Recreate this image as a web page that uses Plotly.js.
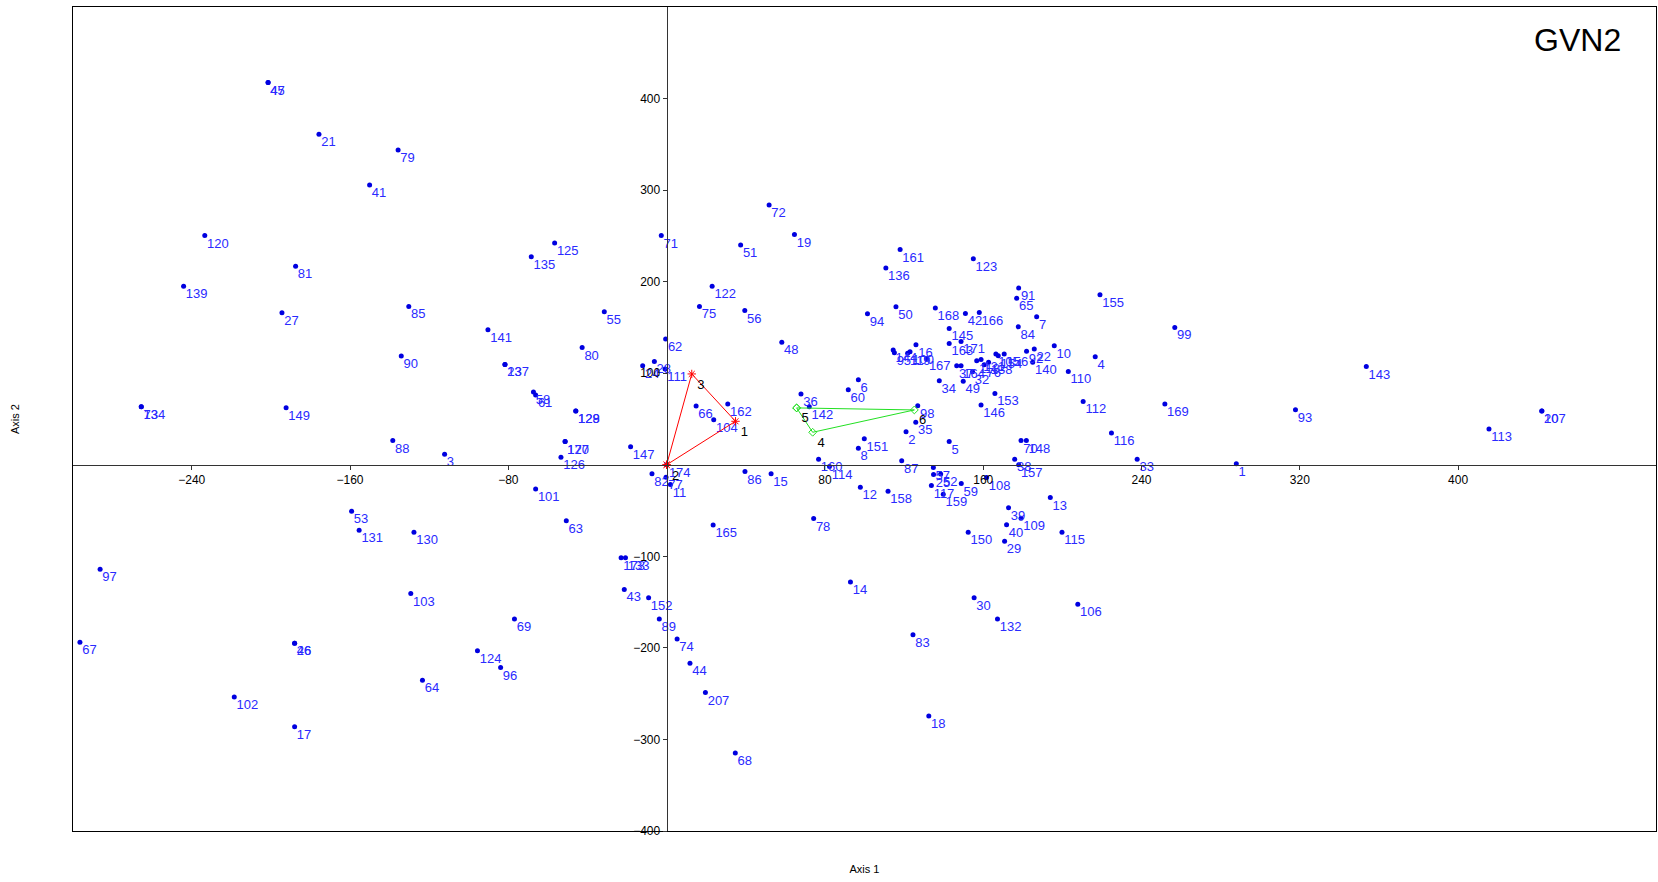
<!DOCTYPE html>
<html>
<head>
<meta charset="utf-8">
<script src="https://cdn.plot.ly/plotly-3.0.1.min.js"></script>
<style>
  html, body { margin: 0; padding: 0; background: #fff; }
  #chart { width: 1658px; height: 882px; }
</style>
</head>
<body>
<div id="chart"></div>
<script>
// Genotype scores on the first two axes
const genoLabels = [
  '1','2','3','4','5','6','7','8','10','11','12','13','14','15','16','17','18','19',
  '20','107','21','22','92','23','137','24','28','111','27','29','30','32','33','34',
  '35','36','37','164','39','40','41','42','43','44','45','47','48','49','50','51',
  '53','55','56','57','58','61','59','60','62','63','64','65','66','67','68','69',
  '70','148','71','72','73','134','74','75','77','78','79','80','81','82','83','84',
  '85','86','87','88','89','90','93','94','96','97','98','99','101','102','103','104',
  '106','108','109','110','112','113','114','115','116','117','120','122','123','124',
  '125','126','128','129','130','131','132','135','136','139','140','141','142','143',
  '145','146','147','149','150','151','152','153','155','157','158','159','160','161',
  '162','163','165','166','168','169','170','127','171','173','133','174','38','26','46',
  '91','207','25','52','118','121','138','76','105','119','156','144','95','154','100','167'
];
const axis1 = [
  287.9,121.0,-112.2,216.6,142.8,96.9,187.0,96.9,195.9,1.9,97.9,193.9,92.9,52.8,126.0,-188.0,132.5,64.6,
  442.3,442.3,-175.7,185.8,181.9,-81.7,-81.7,-12.1,-6.2,-0.8,-194.4,170.8,155.4,154.6,237.8,137.8,
  125.9,67.9,146.6,148.8,172.8,171.8,-150.1,151.0,-21.4,11.8,-201.4,-201.4,58.2,149.9,115.9,37.4,
  -159.2,-31.5,39.5,134.8,-67.3,-66.2,148.9,91.8,-0.5,-50.7,-123.4,176.9,14.9,-296.5,34.7,-76.9,
  179.1,181.8,-2.7,51.8,-265.5,-265.5,5.3,16.6,-0.3,74.3,-135.7,-42.7,-187.5,-7.4,124.5,177.7,
  -130.3,39.6,118.8,-138.4,-3.7,-134.1,317.8,101.5,-83.9,-286.3,126.9,256.8,-66.2,-218.5,-129.3,23.8,
  207.8,161.7,179.1,203.0,210.5,415.6,82.3,199.8,224.8,133.8,-233.4,23.0,155.0,-95.6,
  -56.6,-53.4,-45.9,-45.9,-127.7,-155.4,167.2,-68.4,110.8,-244.1,185.0,-90.3,72.1,353.6,
  142.8,158.9,-18.2,-192.3,152.4,99.9,-9.1,165.9,219.0,177.9,111.9,139.8,76.8,118.0,
  30.9,142.8,23.5,158.0,135.8,251.8,-51.3,-51.3,148.8,-23.0,-20.8,0.0,175.9,-188.0,-188.0,
  177.9,19.6,134.9,138.5,156.7,158.9,162.7,160.5,166.4,121.8,170.6,114.5,115.1,167.6,123.0,131.4
];
const axis2 = [
  1.2,36.2,11.5,118.0,25.3,93.0,161.7,18.0,130.0,-21.6,-24.5,-35.8,-128.0,-9.9,131.1,-286.0,-274.5,251.4,
  58.8,58.8,361.0,126.4,123.9,109.6,109.6,108.2,112.9,104.6,166.1,-83.4,-145.3,101.6,6.0,91.8,
  46.4,77.3,108.2,108.2,-47.0,-65.6,305.7,165.3,-136.1,-216.8,417.5,417.5,133.8,91.1,172.5,240.0,
  -50.7,167.2,168.4,-3.0,79.6,76.1,-20.5,82.0,137.3,-61.1,-235.3,182.0,64.2,-193.8,-314.9,-168.4,
  26.4,26.4,250.3,283.7,63.4,63.4,-190.3,173.0,-13.6,-58.8,343.7,128.0,216.8,-9.9,-185.7,150.7,
  173.0,-7.4,4.3,26.5,-168.4,118.8,60.0,164.9,-221.5,-114.2,64.6,150.0,-26.5,-253.7,-140.7,49.3,
  -152.2,-14.0,-58.4,102.0,69.2,39.2,-2.0,-73.6,34.8,-22.7,250.3,195.0,224.9,-203.0,
  242.2,8.1,58.8,58.8,-73.8,-71.5,-168.4,227.2,214.8,194.9,111.9,147.6,63.4,107.3,
  148.9,65.2,19.6,62.3,-73.7,28.3,-145.3,77.9,185.7,-0.1,-28.9,-32.2,6.0,235.0,
  66.4,132.5,-65.7,166.3,171.2,66.4,25.4,25.4,134.7,-101.5,-101.5,0.0,6.0,-194.9,-194.9,
  193.0,-248.8,-10.7,-10.0,113.6,115.1,111.9,109.3,120.9,121.7,120.9,125.3,122.4,119.1,123.5,116.2
];

// Environment polygons (vertex labels and scores)
const redLabels = ['2','1','3'];
const redAxis1 = [0.0, 34.8, 12.7];
const redAxis2 = [0.0, 47.5, 99.2];
const greenLabels = ['5','6','4'];
const greenAxis1 = [65.7, 125.2, 73.8];
const greenAxis2 = [62.1, 59.9, 35.5];

const xTicks = [-240, -160, -80, 80, 160, 240, 320, 400];
const yTicks = [-400, -300, -200, -100, 100, 200, 300, 400];

const FONT = 'Liberation Sans, Arial, Helvetica, sans-serif';

function closed(arr) { return arr.concat([arr[0]]); }

const traces = [
  // genotype dots
  {
    type: 'scatter', mode: 'markers',
    x: axis1, y: axis2,
    marker: { color: '#0000e0', size: 5 },
    xaxis: 'x', yaxis: 'y', hoverinfo: 'x+y'
  },
  // genotype numbers, set just below and right of each dot
  {
    type: 'scatter', mode: 'markers+text',
    x: axis1, y: axis2, text: genoLabels,
    textposition: 'bottom right',
    textfont: { family: FONT, size: 13, color: '#2a2aff' },
    marker: { size: 2, opacity: 0 },
    xaxis: 'x', yaxis: 'y', hoverinfo: 'text', cliponaxis: false
  },
  {
    type: 'scatter', mode: 'lines+markers+text',
    x: closed(redAxis1), y: closed(redAxis2),
    text: redLabels.concat(['']),
    textposition: 'bottom right',
    textfont: { family: FONT, size: 13, color: '#000' },
    line: { color: '#ff0000', width: 1 },
    marker: { color: '#ff0000', size: 7, symbol: 'asterisk-open', line: { color: '#ff0000', width: 1 } },
    xaxis: 'x2', yaxis: 'y2', hoverinfo: 'skip'
  },
  {
    type: 'scatter', mode: 'lines+markers+text',
    x: closed(greenAxis1), y: closed(greenAxis2),
    text: greenLabels.concat(['']),
    textposition: 'bottom right',
    textfont: { family: FONT, size: 13, color: '#000' },
    line: { color: '#22e022', width: 1 },
    marker: { color: '#22e022', size: 6, symbol: 'diamond-open', line: { color: '#22e022', width: 1 } },
    xaxis: 'x2', yaxis: 'y2', hoverinfo: 'skip'
  }
];

const xRange = [-300, 500];
const yRange = [-400, 500];

const layout = {
  width: 1658, height: 882,
  margin: { l: 73, r: 2, t: 7, b: 51 },
  paper_bgcolor: '#fff', plot_bgcolor: '#fff',
  showlegend: false,
  font: { family: FONT, color: '#000' },
  title: {
    text: 'GVN2',
    font: { family: FONT, size: 32, color: '#000' },
    xref: 'paper', x: 0.978, xanchor: 'right',
    yref: 'container', y: 0.955, yanchor: 'middle'
  },
  xaxis: {
    range: xRange, showgrid: false, zeroline: false,
    showline: true, mirror: true, linecolor: '#000', linewidth: 1,
    ticks: '', showticklabels: false,
    title: { text: 'Axis 1', font: { family: FONT, size: 11, color: '#000' }, standoff: 34 }
  },
  yaxis: {
    range: yRange, showgrid: false, zeroline: false,
    showline: true, mirror: true, linecolor: '#000', linewidth: 1,
    ticks: '', showticklabels: false,
    title: { text: 'Axis 2', font: { family: FONT, size: 11, color: '#000' }, standoff: 50 }
  },
  xaxis2: {
    range: xRange, overlaying: 'x', anchor: 'free',
    position: (0 - yRange[0]) / (yRange[1] - yRange[0]),
    showgrid: false, zeroline: false,
    showline: true, linecolor: '#333', linewidth: 1,
    ticks: 'outside', ticklen: 4, tickcolor: '#333',
    tickvals: xTicks, tickfont: { family: FONT, size: 12, color: '#000' }
  },
  yaxis2: {
    range: yRange, overlaying: 'y', anchor: 'free', side: 'left',
    position: (0 - xRange[0]) / (xRange[1] - xRange[0]),
    showgrid: false, zeroline: false,
    showline: true, linecolor: '#333', linewidth: 1,
    ticks: 'outside', ticklen: 4, tickcolor: '#333',
    tickvals: yTicks, tickfont: { family: FONT, size: 12, color: '#000' }
  }
};

Plotly.newPlot('chart', traces, layout, { displayModeBar: false, staticPlot: true });
</script>
</body>
</html>
